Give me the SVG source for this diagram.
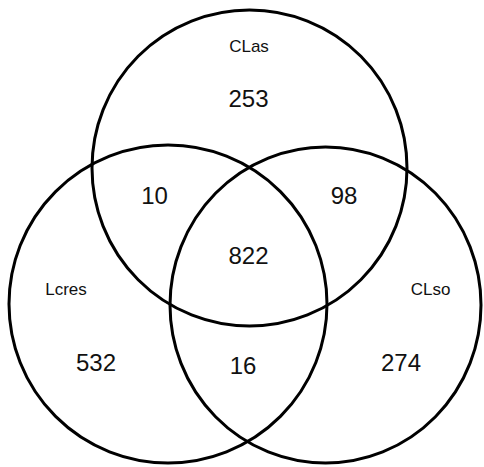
<svg xmlns="http://www.w3.org/2000/svg" width="484" height="467" viewBox="0 0 484 467">
  <style>
    .set { fill: none; stroke: #000; stroke-width: 3; }
    text { font-family: "Liberation Sans", Arial, sans-serif; fill: #111; text-anchor: middle; }
    .count { font-size: 24px; }
    .name { font-size: 17px; }
  </style>
  <rect width="484" height="467" fill="#fff"/>
  <!-- set outlines -->
  <g id="sets">
    <g id="set-clas"><ellipse class="set" cx="249.5" cy="168" rx="157.5" ry="158"/></g>
    <g id="set-lcres"><ellipse class="set" cx="168" cy="304" rx="159" ry="159"/></g>
    <g id="set-clso"><ellipse class="set" cx="325.5" cy="305" rx="155.5" ry="158"/></g>
  </g>
  <!-- set names -->
  <g id="names">
    <text class="name" x="249" y="52">CLas</text>
    <text class="name" x="66" y="295">Lcres</text>
    <text class="name" x="430.5" y="295">CLso</text>
  </g>
  <!-- region counts -->
  <g id="counts">
    <text class="count" x="248.5" y="107">253</text>
    <text class="count" x="154.5" y="204">10</text>
    <text class="count" x="344" y="204">98</text>
    <text class="count" x="248.5" y="264">822</text>
    <text class="count" x="96" y="371">532</text>
    <text class="count" x="243" y="374">16</text>
    <text class="count" x="401" y="371">274</text>
  </g>
</svg>
